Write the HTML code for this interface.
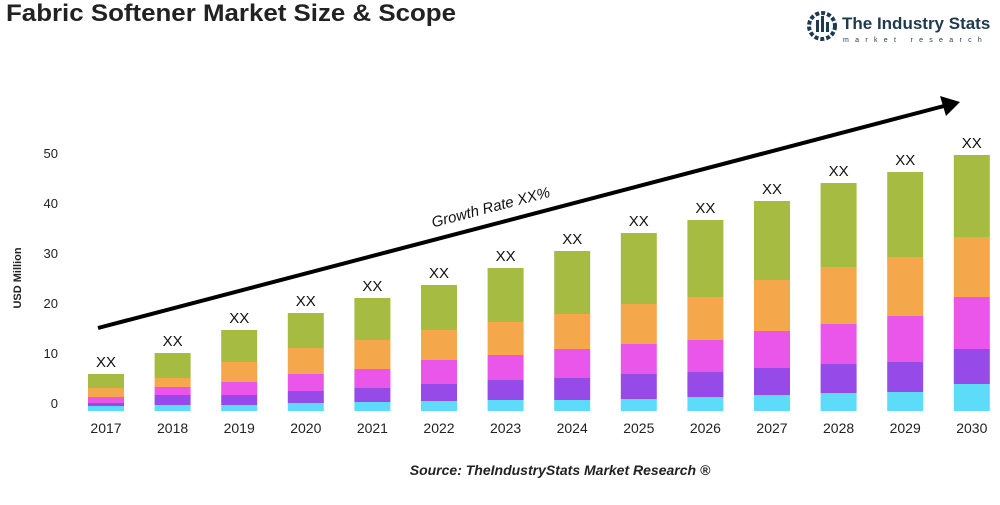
<!DOCTYPE html><html><head><style>body{margin:0;background:#fff;width:1000px;height:500px;overflow:hidden;font-family:"Liberation Sans",sans-serif}</style></head><body>
<svg width="1000" height="500" xmlns="http://www.w3.org/2000/svg" font-family="Liberation Sans, sans-serif">
<text x="6" y="21" font-size="24" font-weight="bold" fill="#222" textLength="450" lengthAdjust="spacingAndGlyphs">Fabric Softener Market Size &amp; Scope</text>
<g fill="#1e3a4c"><circle cx="822" cy="26" r="13" fill="none" stroke="#1e3a4c" stroke-width="4" stroke-dasharray="4 2"/><rect x="816" y="20" width="3" height="12"/><rect x="821" y="16" width="3" height="16"/><rect x="826" y="22" width="3" height="10"/></g>
<text x="842" y="29" font-size="17" font-weight="bold" fill="#1e3a4c">The Industry Stats</text>
<text x="843" y="42" font-size="7" fill="#1e3a4c" letter-spacing="6.3">market research</text>
<g font-size="13" fill="#222" text-anchor="end">
<text x="58" y="408">0</text><text x="58" y="358">10</text><text x="58" y="308">20</text><text x="58" y="258">30</text><text x="58" y="208">40</text><text x="58" y="158">50</text></g>
<text transform="translate(21,278) rotate(-90)" font-size="11" font-weight="bold" fill="#222" text-anchor="middle">USD Million</text>
<g id="bars"></g>
<line x1="98" y1="328" x2="944" y2="106" stroke="#000" stroke-width="4"/>
<polygon points="960,102 940,96 946,116" fill="#000"/>
<text transform="translate(492,212) rotate(-14.7)" font-size="15" font-style="italic" fill="#111" text-anchor="middle">Growth Rate XX%</text>
<text x="560" y="475" font-size="14" font-weight="bold" font-style="italic" fill="#222" text-anchor="middle">Source: TheIndustryStats Market Research ®</text>
</svg>
<script>
const d=[[374,388,397,403,406],[353,378,387,395,405],[330,362,382,395,405],[313,348,374,391,403],[298,340,369,388,402],[285,330,360,384,401],[268,322,355,380,400],[251,314,349,378,400],[233,304,344,374,399],[220,297,340,372,397],[201,280,331,368,395],[183,267,324,364,393],[172,257,316,362,392],[155,237,297,349,384]];
const c=["#a6bb41","#f4a74b","#ea56ea","#964be8","#5cdcf8"];let s="";
d.forEach((r,i)=>{const cx=106+66.6*i,x=cx-18;const b=[...r,411];
for(let k=0;k<5;k++)s+=`<rect x="${x}" y="${b[k]}" width="36" height="${b[k+1]-b[k]}" fill="${c[k]}"/>`;
s+=`<text x="${cx}" y="${r[0]-7}" font-size="15" text-anchor="middle" fill="#111">XX</text><text x="${cx}" y="433" font-size="14" text-anchor="middle" fill="#222">${2017+i}</text>`;});
document.getElementById("bars").innerHTML=s;
</script></body></html>
